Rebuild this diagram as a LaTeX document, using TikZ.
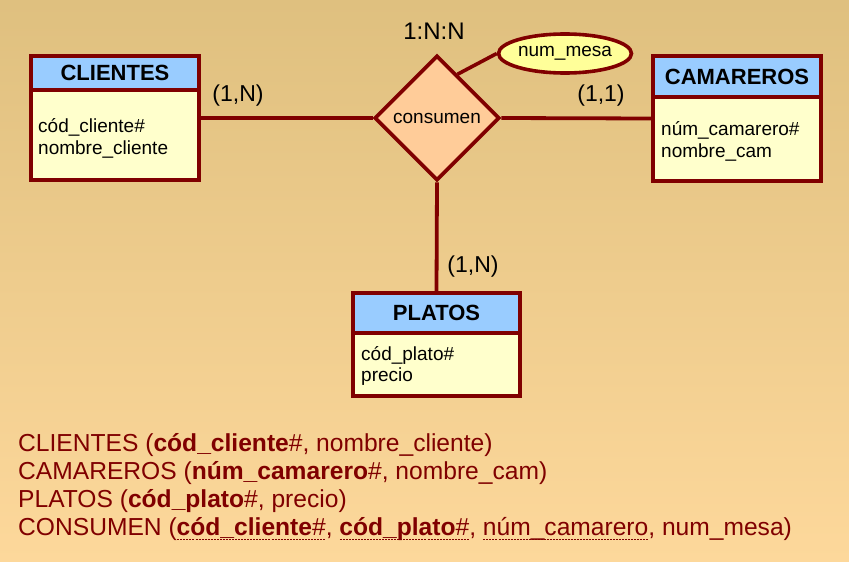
\documentclass[tikz,border=0pt]{standalone}
\usepackage{fontspec}
\setmainfont{Liberation Sans}
\usetikzlibrary{shapes.geometric,calc}
\definecolor{bord}{HTML}{800000}
\definecolor{hdrc}{HTML}{99CCFF}
\definecolor{bodyc}{HTML}{FFFFCC}
\definecolor{diac}{HTML}{FFCC99}
\definecolor{ellc}{HTML}{FFFF99}
\definecolor{bgtop}{HTML}{DFC07F}
\definecolor{bgbot}{HTML}{FDD89B}
\definecolor{tcol}{HTML}{800000}
\newcommand\dul[1]{{\setbox0\hbox{#1}\rlap{\raisebox{-4.5pt}{\hbox to \wd0{\xleaders\hbox to 3pt{\hss\rule{2pt}{1pt}\hss}\hfill}}}\box0}}
\tikzset{
  ent/.style={draw=bord, line width=3.8pt, fill=bodyc, minimum width=168pt, inner sep=0pt},
  hdr/.style={draw=bord, line width=3.8pt, fill=hdrc, minimum width=168pt, inner sep=0pt,
              font=\fontsize{22}{26}\selectfont\bfseries},
  attr/.style={anchor=base west, inner sep=0pt, font=\fontsize{19}{22}\selectfont},
  card/.style={inner sep=0pt, font=\fontsize{23}{27}\selectfont},
  rel/.style={diamond, draw=bord, line width=3.8pt, fill=diac, minimum width=125pt, minimum height=125pt,
              inner sep=0pt, font=\fontsize{19}{22}\selectfont},
  att/.style={ellipse, draw=bord, line width=3.6pt, fill=ellc, minimum width=126pt, minimum height=39pt,
              inner sep=0pt, font=\fontsize{19}{22}\selectfont},
  conn/.style={draw=bord, line width=3.8pt},
  rtext/.style={anchor=base west, inner sep=0pt, text=tcol, font=\fontsize{24.6}{28}\selectfont}
}
\begin{document}
\begin{tikzpicture}[x=1pt,y=-1pt]
\shade[top color=bgtop,bottom color=bgbot] (0,0) rectangle (849,562);
\useasboundingbox (0,0) rectangle (849,562);

% entities
\node[ent, minimum height=124pt] (cli) at (115,118) {};
\node[hdr, minimum height=34pt, anchor=north] (clih) at (cli.north) {CLIENTES};
\node[attr] (clia1) at (38,132) {cód\_cliente\#};
\node[attr] (clia2) at (38,154) {nombre\_cliente};

\node[ent, minimum height=125pt] (cam) at (737,118.5) {};
\node[hdr, minimum height=41pt, anchor=north] (camh) at (cam.north) {CAMAREROS};
\node[attr] (cama1) at (661,135) {núm\_camarero\#};
\node[attr] (cama2) at (661,157) {nombre\_cam};

\node[ent, minimum width=167pt, minimum height=103pt] (pla) at (436.5,344.5) {};
\node[hdr, minimum width=167pt, minimum height=40pt, anchor=north] (plah) at (pla.north) {PLATOS};
\node[attr] (plaa1) at (361,360) {cód\_plato\#};
\node[attr] (plaa2) at (361,381) {precio};

% relationship
\node[rel] (dia) at (437,118) {consumen};
\node[att] (ell) at (565,53.5) {num\_mesa};

% connectors
\draw[conn] (cli.east) -- (dia.west);
\draw[conn] (dia.east) -- (cam.west);
\draw[conn] (dia.south) -- (pla.north);
\draw[conn, line width=3.6pt] ($(dia.north)!0.32!(dia.east)$) -- (ell.west);

% cardinalities
\node[card, font=\fontsize{24}{28}\selectfont] (c0) at (434,31) {1:N:N};
\node[card] (c1) at (238,96) {(1,N)};
\node[card] (c2) at (601,96) {(1,1)};
\node[card] (c3) at (473,267) {(1,N)};

% relational schema
\node[rtext] (r1) at (18,451) {CLIENTES (\textbf{cód\_cliente}\#, nombre\_cliente)};
\node[rtext] (r2) at (18,479) {CAMAREROS (\textbf{núm\_camarero}\#, nombre\_cam)};
\node[rtext] (r3) at (18,507) {PLATOS (\textbf{cód\_plato}\#, precio)};
\node[rtext] (r4) at (18,535) {CONSUMEN (\dul{\textbf{cód\_cliente}\#}, \dul{\textbf{cód\_plato}\#}, \dul{núm\_camarero}, num\_mesa)};
\end{tikzpicture}
\end{document}
